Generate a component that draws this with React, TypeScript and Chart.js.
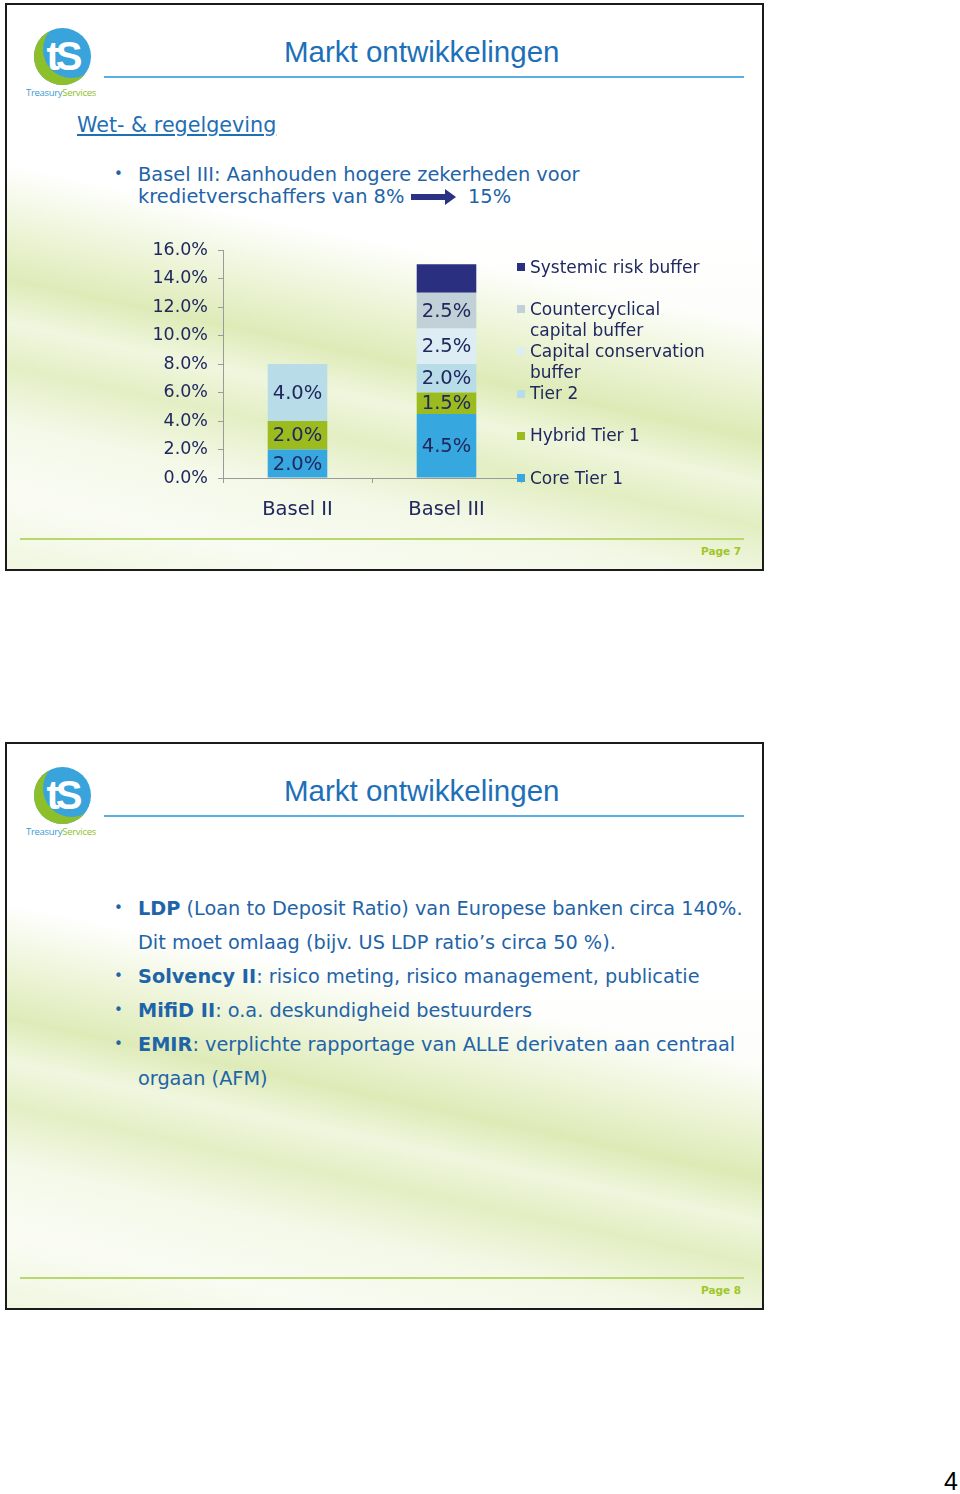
import React, { useEffect, useRef } from "react";
import { Chart, registerables } from "chart.js";

Chart.register(...registerables);

// ---------- data ----------
const categories = ["Basel II", "Basel III"];
const seriesNames = [
  "Core Tier 1",
  "Hybrid Tier 1",
  "Tier 2",
  "Capital conservation buffer",
  "Countercyclical capital buffer",
  "Systemic risk buffer",
];
const coreTier1 = [2.0, 4.5];
const hybridTier1 = [2.0, 1.5];
const tier2 = [4.0, 2.0];
const capitalConservationBuffer = [0, 2.5];
const countercyclicalBuffer = [0, 2.5];
const systemicRiskBuffer = [0, 2.0];
const showValueLabel = [true, true, true, true, true, false];
const yTickLabels = ["0.0%", "2.0%", "4.0%", "6.0%", "8.0%", "10.0%", "12.0%", "14.0%", "16.0%"];
const legendLines = [
  ["Systemic risk buffer"],
  ["Countercyclical", "capital buffer"],
  ["Capital conservation", "buffer"],
  ["Tier 2"],
  ["Hybrid Tier 1"],
  ["Core Tier 1"],
];

const seriesValues = [
  coreTier1,
  hybridTier1,
  tier2,
  capitalConservationBuffer,
  countercyclicalBuffer,
  systemicRiskBuffer,
];
const seriesColors = ["#37a7df", "#9bbb1e", "#b8dde9", "#dcedf3", "#c2d1d8", "#2b2f80"];

const NAVY = "#20285e";
const BLUE_TEXT = "#1f64a8";
const FONT = "'DejaVu Sans', Verdana, sans-serif";

const valueLabelPlugin = {
  id: "valueLabels",
  afterDatasetsDraw(chart: any) {
    const ctx = chart.ctx;
    ctx.save();
    ctx.font = `19.5px ${FONT}`;
    ctx.fillStyle = NAVY;
    ctx.textAlign = "center";
    ctx.textBaseline = "middle";
    chart.data.datasets.forEach((ds: any, i: number) => {
      if (!showValueLabel[i]) return;
      const meta = chart.getDatasetMeta(i);
      meta.data.forEach((bar: any, j: number) => {
        const v = ds.data[j];
        if (!v) return;
        const cy = (bar.y + bar.base) / 2;
        ctx.fillText(`${v.toFixed(1)}%`, bar.x, cy + 1);
      });
    });
    ctx.restore();
  },
};

function BaselChart() {
  const ref = useRef<HTMLCanvasElement>(null);
  useEffect(() => {
    const canvas = ref.current;
    if (!canvas) return;
    const chart = new Chart(canvas, {
      type: "bar",
      data: {
        labels: categories,
        datasets: seriesNames.map((name, i) => ({
          label: name,
          data: seriesValues[i],
          backgroundColor: seriesColors[i],
          borderWidth: 0,
          barPercentage: 0.4,
          categoryPercentage: 1,
        })),
      },
      options: {
        animation: false,
        responsive: false,
        maintainAspectRatio: false,
        layout: { padding: { top: 10, right: 4, left: 0, bottom: 0 } },
        plugins: { legend: { display: false }, tooltip: { enabled: false } },
        scales: {
          x: {
            stacked: true,
            grid: { drawOnChartArea: false, tickLength: 5, color: "#9a9a9a" },
            border: { color: "#9a9a9a" },
            ticks: { padding: 15, color: NAVY, font: { family: FONT, size: 19.5 } },
            afterFit: (s: any) => {
              s.height = 42;
              s.paddingLeft = 0;
              s.paddingRight = 0;
            },
          },
          y: {
            stacked: true,
            min: 0,
            max: 16,
            ticks: {
              stepSize: 2,
              padding: 10,
              color: NAVY,
              font: { family: FONT, size: 17.5 },
              callback: (_v: any, idx: number) => yTickLabels[idx],
            },
            grid: { drawOnChartArea: false, tickLength: 5, color: "#9a9a9a" },
            border: { color: "#9a9a9a" },
            afterFit: (s: any) => {
              s.width = 83;
              s.paddingTop = 0;
              s.paddingBottom = 0;
            },
          },
        },
      },
      plugins: [valueLabelPlugin],
    } as any);
    return () => chart.destroy();
  }, []);
  return (
    <canvas
      ref={ref}
      width={385}
      height={280}
      style={{ position: "absolute", left: 140, top: 240, width: 385, height: 280 }}
    />
  );
}

function Legend() {
  const order = [5, 4, 3, 2, 1, 0];
  return (
    <>
      {order.map((si, k) => {
        const top = 267 + k * 42.2;
        return (
          <div key={si} style={{ position: "absolute", left: 517, top: top - 10.5 }}>
            <div
              style={{
                position: "absolute",
                left: 0,
                top: 6.5,
                width: 8,
                height: 8,
                background: seriesColors[si],
              }}
            />
            <div
              style={{
                position: "absolute",
                left: 13,
                top: 0,
                whiteSpace: "nowrap",
                fontFamily: FONT,
                fontSize: 17,
                lineHeight: "21px",
                color: NAVY,
              }}
            >
              {legendLines[k].map((l, n) => (
                <div key={n}>{l}</div>
              ))}
            </div>
          </div>
        );
      })}
    </>
  );
}

function T(props: {
  x: number;
  y: number;
  size: number;
  color?: string;
  family?: string;
  weight?: any;
  children: any;
  underline?: boolean;
}) {
  const lh = Math.round(props.size * 1.3);
  return (
    <div
      style={{
        position: "absolute",
        left: props.x,
        top: props.y - lh / 2,
        lineHeight: `${lh}px`,
        fontSize: props.size,
        fontFamily: props.family || FONT,
        fontWeight: props.weight || "normal",
        color: props.color || BLUE_TEXT,
        whiteSpace: "nowrap",
        textDecoration: props.underline ? "underline" : "none",
      }}
    >
      {props.children}
    </div>
  );
}

function Logo({ top }: { top: number }) {
  return (
    <>
      <div
        style={{
          position: "absolute",
          left: 34,
          top: top + 25,
          width: 57,
          height: 57,
          borderRadius: "50%",
          background: "#39a4dc",
          boxShadow: "inset 9px -7px 0 #8dbf2a",
          color: "#fff",
          fontFamily: "'Liberation Sans', Arial, sans-serif",
          fontWeight: "bold",
          fontSize: 40,
          lineHeight: "57px",
          textAlign: "center",
          letterSpacing: -4,
        }}
      >
        tS
      </div>
      <div
        style={{
          position: "absolute",
          left: 26,
          top: top + 84,
          fontFamily: "'Open Sans', sans-serif",
          fontSize: 9.5,
          lineHeight: "12px",
          whiteSpace: "nowrap",
          letterSpacing: -0.3,
        }}
      >
        <span style={{ color: "#3a9bd0" }}>Treasury</span>
        <span style={{ color: "#8dbf2a" }}>Services</span>
      </div>
    </>
  );
}

const SLIDE_BG =
  "linear-gradient(192deg, rgba(255,255,255,0) 0%, rgba(255,255,255,0) 44%, rgba(228,239,196,0.6) 52%, rgba(205,225,148,0.65) 60%, rgba(232,242,206,0.6) 66%, rgba(208,227,155,0.55) 72%, rgba(238,245,220,0.5) 80%, rgba(255,255,255,0.2) 90%, rgba(236,244,214,0.6) 100%), linear-gradient(180deg, #ffffff 0%, #ffffff 40%, #f7faee 100%)";

function Slide({ top, page, children }: { top: number; page: number; children?: any }) {
  return (
    <>
      <div
        style={{
          position: "absolute",
          left: 5,
          top,
          width: 755,
          height: 564,
          border: "2px solid #1b1b1b",
          background: SLIDE_BG,
          overflow: "hidden",
        }}
      />
      <Logo top={top} />
      <T x={284} y={top + 49} size={29.5} family="'Liberation Sans', Arial, sans-serif" color="#1d70b8">
        Markt ontwikkelingen
      </T>
      <div
        style={{
          position: "absolute",
          left: 104,
          top: top + 73,
          width: 640,
          height: 1.5,
          background: "#5aaee0",
        }}
      />
      {children}
      <div
        style={{
          position: "absolute",
          left: 20,
          top: top + 535,
          width: 724,
          height: 1.5,
          background: "#b9d86a",
        }}
      />
      <T x={701} y={top + 548} size={10.5} weight="bold" color="#a0c62a">
        {`Page ${page}`}
      </T>
    </>
  );
}

function Bullet({ y }: { y: number }) {
  return (
    <T x={114} y={y} size={15}>
      •
    </T>
  );
}

export default function App() {
  const slide2Lines: { y: number; bullet: boolean; bold?: string; rest: string }[] = [
    { y: 908, bullet: true, bold: "LDP", rest: " (Loan to Deposit Ratio) van Europese banken circa 140%." },
    { y: 942, bullet: false, rest: "Dit moet omlaag (bijv. US LDP ratio’s circa 50 %)." },
    { y: 976, bullet: true, bold: "Solvency II", rest: ": risico meting, risico management, publicatie" },
    { y: 1010, bullet: true, bold: "MifiD II", rest: ": o.a. deskundigheid bestuurders" },
    { y: 1044, bullet: true, bold: "EMIR", rest: ": verplichte rapportage van ALLE derivaten aan centraal" },
    { y: 1078, bullet: false, rest: "orgaan (AFM)" },
  ];
  return (
    <div
      style={{
        position: "absolute",
        left: 0,
        top: 0,
        width: 960,
        height: 1494,
        background: "#ffffff",
        overflow: "hidden",
      }}
    >
      <Slide top={3} page={7}>
        <T x={77} y={125} size={20.7} underline color="#1f6fb5">
          Wet- &amp; regelgeving
        </T>
        <Bullet y={174} />
        <T x={138} y={174} size={19.4}>
          Basel III: Aanhouden hogere zekerheden voor
        </T>
        <T x={138} y={196} size={19.4}>
          kredietverschaffers van 8%
        </T>
        <svg
          style={{ position: "absolute", left: 411, top: 189 }}
          width={46}
          height={16}
          viewBox="0 0 46 16"
        >
          <polygon points="0,5 34,5 34,0 45,8 34,16 34,11 0,11" fill="#2b3184" />
        </svg>
        <T x={468} y={196} size={19.4}>
          15%
        </T>
        <BaselChart />
        <Legend />
      </Slide>
      <Slide top={742} page={8}>
        {slide2Lines.map((l, i) => (
          <React.Fragment key={i}>
            {l.bullet && <Bullet y={l.y} />}
            <T x={138} y={l.y} size={19.3}>
              {l.bold && <b>{l.bold}</b>}
              {l.rest}
            </T>
          </React.Fragment>
        ))}
      </Slide>
      <div
        style={{
          position: "absolute",
          right: 2,
          top: 1466,
          fontSize: 25,
          lineHeight: "30px",
          fontFamily: "'Liberation Sans', Arial, sans-serif",
          color: "#000",
        }}
      >
        4
      </div>
    </div>
  );
}
